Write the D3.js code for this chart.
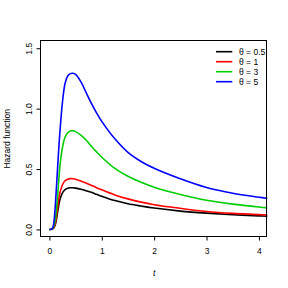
<!DOCTYPE html>
<html>
<head>
<meta charset="utf-8">
<script src="https://cdn.jsdelivr.net/npm/d3@7"></script>
<style>
  body { margin: 0; background: #fff; }
  svg text { font-family: "Liberation Sans", Arial, sans-serif; fill: #000; }
</style>
</head>
<body>
<div id="chart"></div>
<script>
// time grid (t) and hazard values
const tValues = [0, 0.05, 0.075, 0.1, 0.125, 0.15, 0.175, 0.2, 0.25, 0.3, 0.35, 0.4, 0.45, 0.5, 0.6, 0.7, 0.8, 0.9, 1.0,
                 1.25, 1.5, 1.75, 2.0, 2.5, 3.0, 3.5, 4.0, 4.2];
const hazard05 = [0, 0.002, 0.008, 0.025, 0.06, 0.125, 0.19, 0.245, 0.303, 0.33, 0.341, 0.345, 0.345, 0.342, 0.333, 0.321, 0.307, 0.291, 0.275,
                  0.239, 0.213, 0.194, 0.177, 0.152, 0.135, 0.122, 0.112, 0.109];
const hazard1  = [0, 0.003, 0.01, 0.03, 0.08, 0.16, 0.24, 0.30, 0.37, 0.403, 0.416, 0.421, 0.42, 0.416, 0.402, 0.385, 0.366, 0.346, 0.328,
                  0.286, 0.253, 0.226, 0.205, 0.175, 0.149, 0.133, 0.123, 0.118];
const hazard3  = [0, 0.004, 0.015, 0.05, 0.12, 0.24, 0.38, 0.52, 0.68, 0.765, 0.80, 0.815, 0.817, 0.81, 0.78, 0.74, 0.69, 0.642, 0.598,
                  0.505, 0.44, 0.39, 0.35, 0.29, 0.242, 0.21, 0.186, 0.178];
const hazard5  = [0, 0.005, 0.03, 0.12, 0.28, 0.46, 0.64, 0.80, 1.055, 1.21, 1.27, 1.29, 1.293, 1.283, 1.224, 1.135, 1.045, 0.965, 0.895,
                  0.75, 0.638, 0.563, 0.507, 0.42, 0.348, 0.30, 0.267, 0.255];

const seriesLabels = ["0.5", "1", "3", "5"];
const seriesColors = ["#000000", "#ff0000", "#00cd00", "#0000ff"];
const seriesValues = [hazard05, hazard1, hazard3, hazard5];

const xTicks = [0, 1, 2, 3, 4];
const yTicks = [0, 0.5, 1.0, 1.5];

const width = 288, height = 288;
const box = { left: 41, right: 267.3, top: 41, bottom: 236.7 };
const fontSize = 8.5;

const svg = d3.select("#chart").append("svg")
    .attr("width", width)
    .attr("height", height);

// R style: limits extended 4% beyond data range
const x = d3.scaleLinear().domain([-0.16, 4.16]).range([box.left, box.right]);
const y = d3.scaleLinear().domain([-0.06, 1.56]).range([box.bottom, box.top]);

svg.append("clipPath").attr("id", "plotClip")
    .append("rect")
    .attr("x", box.left).attr("y", box.top)
    .attr("width", box.right - box.left).attr("height", box.bottom - box.top);

const line = d3.line()
    .x(d => x(d[0]))
    .y(d => y(d[1]))
    .curve(d3.curveCatmullRom.alpha(0.5));

const curves = svg.append("g").attr("clip-path", "url(#plotClip)");
seriesValues.forEach((vals, i) => {
    curves.append("path")
        .datum(tValues.map((t, j) => [t, vals[j]]))
        .attr("d", line)
        .attr("fill", "none")
        .attr("stroke", seriesColors[i])
        .attr("stroke-width", 1.6);
});

// frame
svg.append("rect")
    .attr("x", Math.round(box.left) - 0.5)
    .attr("y", Math.round(box.top) - 0.5)
    .attr("width", Math.round(box.right) - Math.round(box.left))
    .attr("height", Math.round(box.bottom) - Math.round(box.top))
    .attr("fill", "none")
    .attr("stroke", "#000")
    .attr("stroke-width", 1);

// x axis
const xAxis = svg.append("g")
    .attr("transform", `translate(0,${Math.round(box.bottom) - 0.5})`)
    .call(d3.axisBottom(x).tickValues(xTicks).tickSize(4).tickPadding(7).tickFormat(d3.format("d")));
xAxis.select(".domain").attr("d", `M${x(0)},0H${x(4)}`);
xAxis.selectAll("text").attr("font-size", fontSize).attr("font-family", "Liberation Sans, Arial, sans-serif");

// y axis
const yAxis = svg.append("g")
    .attr("transform", `translate(${Math.round(box.left) - 0.5},0)`)
    .call(d3.axisLeft(y).tickValues(yTicks).tickSize(4).tickFormat(d3.format(".1f")));
yAxis.select(".domain").attr("d", `M0,${y(0)}V${y(1.5)}`);
yAxis.selectAll(".tick text")
    .attr("font-size", fontSize)
    .attr("font-family", "Liberation Sans, Arial, sans-serif")
    .attr("x", null).attr("dy", null)
    .attr("text-anchor", "middle")
    .attr("transform", "translate(-9,0) rotate(-90)");

// axis titles
svg.append("text")
    .attr("x", x(2)).attr("y", 276)
    .attr("text-anchor", "middle")
    .attr("font-size", fontSize)
    .attr("font-style", "italic")
    .text("t");

svg.append("text")
    .attr("transform", `translate(9.5,${(box.top + box.bottom) / 2}) rotate(-90)`)
    .attr("text-anchor", "middle")
    .attr("font-size", fontSize)
    .text("Hazard function");

// legend
const legend = svg.append("g");
seriesLabels.forEach((lab, i) => {
    const ly = 51.7 + i * 10;
    legend.append("line")
        .attr("x1", 216).attr("x2", 232.3)
        .attr("y1", ly).attr("y2", ly)
        .attr("stroke", seriesColors[i])
        .attr("stroke-width", 1.6);
    legend.append("text")
        .attr("x", 239).attr("y", ly + 3)
        .attr("font-size", fontSize)
        .text("θ = " + lab);
});
</script>
</body>
</html>
